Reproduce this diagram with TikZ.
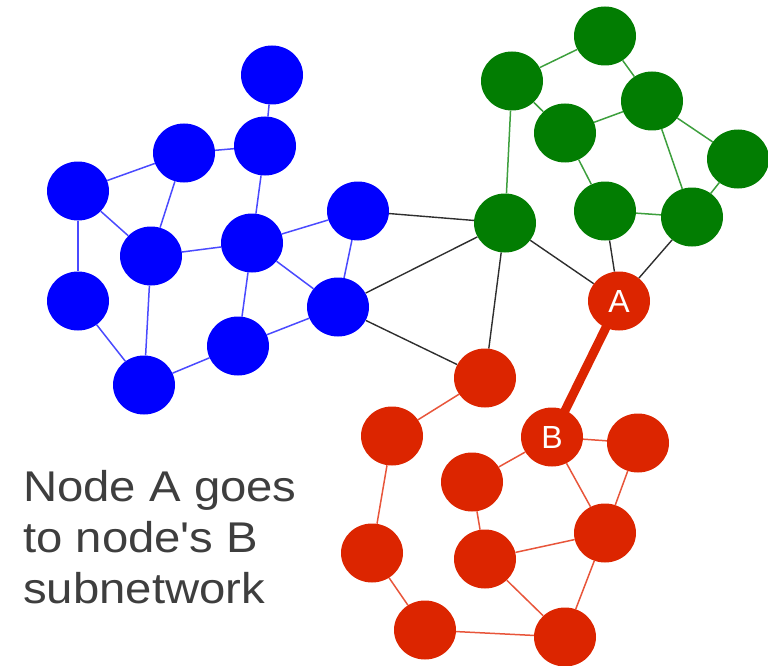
\documentclass[tikz,border=0pt]{standalone}
\usepackage{fontspec}
\setmainfont{Liberation Sans}[Ligatures=TeXOff]
\usepackage{graphicx}
\usetikzlibrary{shapes.geometric,backgrounds}
\definecolor{nblue}{HTML}{0000FF}
\definecolor{ngreen}{HTML}{027D02}
\definecolor{nred}{HTML}{DC2500}
\definecolor{eblue}{HTML}{4A4AFF}
\definecolor{egreen}{HTML}{3D9F3D}
\definecolor{ered}{HTML}{E8553A}
\definecolor{eblack}{HTML}{2E2E2E}
\definecolor{captext}{HTML}{3E3E3E}
\tikzset{
  vertex/.style={ellipse, minimum width=62pt, minimum height=59pt, inner sep=0pt, draw=none},
  bnode/.style={vertex, fill=nblue},
  gnode/.style={vertex, fill=ngreen},
  rnode/.style={vertex, fill=nred, text=white, font=\fontsize{32}{32}\selectfont},
  bedge/.style={draw=eblue, line width=1.5pt},
  gedge/.style={draw=egreen, line width=1.5pt},
  redge/.style={draw=ered, line width=1.5pt},
  kedge/.style={draw=eblack, line width=1.4pt},
  hop/.style={draw=nred, line width=9pt},
  caption/.style={anchor=base west, inner sep=0pt, text=captext, font=\fontsize{43}{51}\selectfont}
}
\begin{document}
\begin{tikzpicture}[x=1pt, y=-1pt]
\useasboundingbox (0,0) rectangle (768,666);

% blue cluster
\node[bnode] (b1) at (272,75) {};
\node[bnode] (b2) at (265,146) {};
\node[bnode] (b3) at (184,153) {};
\node[bnode] (b4) at (78,191) {};
\node[bnode] (b5) at (151,256) {};
\node[bnode] (b6) at (252,243) {};
\node[bnode] (b7) at (358,211) {};
\node[bnode] (b8) at (78,301) {};
\node[bnode] (b9) at (238,346) {};
\node[bnode] (b10) at (338,307) {};
\node[bnode] (b11) at (144,385) {};

% green cluster
\node[gnode] (g1) at (605,36) {};
\node[gnode] (g2) at (512,81) {};
\node[gnode] (g3) at (652,101) {};
\node[gnode] (g4) at (565,133) {};
\node[gnode] (g5) at (738,159) {};
\node[gnode] (g6) at (605,211) {};
\node[gnode] (g7) at (692,217) {};
\node[gnode] (g8) at (505,223) {};

% red cluster
\node[rnode] (A) at (619,301) {A};
\node[rnode] (r1) at (485,378) {};
\node[rnode] (B) at (552,437) {B};
\node[rnode] (r2) at (392,436) {};
\node[rnode] (r3) at (638,443) {};
\node[rnode] (r4) at (472,482) {};
\node[rnode] (r5) at (605,533) {};
\node[rnode] (r6) at (485,559) {};
\node[rnode] (r7) at (372,553) {};
\node[rnode] (r8) at (425,630) {};
\node[rnode] (r9) at (565,637) {};

% edges are drawn behind the nodes
\begin{pgfonlayer}{background}
\foreach \u/\v in {b1/b2, b2/b3, b3/b4, b3/b5, b2/b6, b4/b5, b4/b8, b5/b6,
                   b6/b7, b6/b10, b7/b10, b6/b9, b5/b11, b8/b11, b9/b11, b9/b10}
  \draw[bedge] (\u) -- (\v);
\foreach \u/\v in {g1/g2, g1/g3, g2/g4, g2/g8, g3/g4, g3/g5, g3/g7, g4/g6, g6/g7, g5/g7}
  \draw[gedge] (\u) -- (\v);
\foreach \u/\v in {r1/r2, r2/r7, r7/r8, r8/r9, r6/r9, r5/r9, r5/r6, r4/r6,
                   r4/B, B/r3, B/r5, r3/r5}
  \draw[redge] (\u) -- (\v);
\foreach \u/\v in {b7/g8, b10/g8, b10/r1, g8/r1, g8/A, g6/A, g7/A}
  \draw[kedge] (\u) -- (\v);
\draw[hop] (A.center) -- (B.center);
\end{pgfonlayer}

% caption
\node[caption] (t1) at (23,501) {\scalebox{1.1}[1]{Node A goes}};
\node[caption] (t2) at (23,552) {\scalebox{1.1}[1]{to node's B}};
\node[caption] (t3) at (23,603) {\scalebox{1.1}[1]{subnetwork}};
\end{tikzpicture}
\end{document}
